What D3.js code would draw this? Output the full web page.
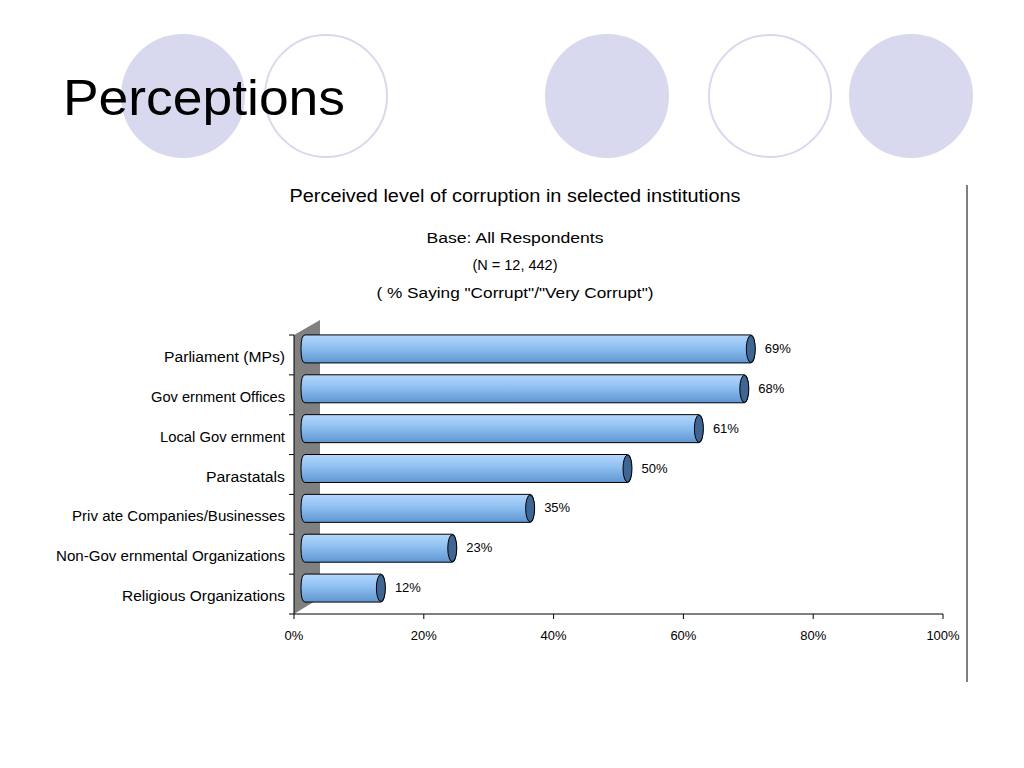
<!DOCTYPE html><html><head><meta charset="utf-8"><script src="https://d3js.org/d3.v7.min.js"></script>
<style>body{margin:0;background:#fff}svg{font-family:"Liberation Sans",Arial,sans-serif}</style></head><body><svg width="1024" height="768"></svg>
<script>
const categories=["Parliament (MPs)","Gov ernment Offices","Local Gov ernment","Parastatals","Priv ate Companies/Businesses","Non-Gov ernmental Organizations","Religious Organizations"];
const values=[69,68,61,50,35,23,12];
const ticks=[0,20,40,60,80,100];
const labelWidths=[121,134,125,79,213,229,163];
const svg=d3.select("svg");
const defs=svg.append("defs");
const g=defs.append("linearGradient").attr("id","bg").attr("x1",0).attr("y1",0).attr("x2",0).attr("y2",1);
g.append("stop").attr("offset","0").attr("stop-color","#b5d6fb");
g.append("stop").attr("offset","0.45").attr("stop-color","#8ec0f2");
g.append("stop").attr("offset","1").attr("stop-color","#5f95cf");
[[183,true],[326,false],[607,true],[770,false],[911,true]].forEach(([cx,f])=>{
 svg.append("circle").attr("cx",cx).attr("cy",96).attr("r",61).attr("fill",f?"#d8d8ee":"#fff").attr("stroke","#d8d8ee").attr("stroke-width",2);});
svg.append("text").attr("x",63).attr("y",115).attr("font-size",50).attr("textLength",282).attr("lengthAdjust","spacingAndGlyphs").text("Perceptions");
svg.append("line").attr("x1",967).attr("x2",967).attr("y1",185).attr("y2",682).attr("stroke","#000");
const x=d3.scaleLinear().domain([0,100]).range([294,943]);
const t=[["Perceived level of corruption in selected institutions",202,18,451],["Base: All Respondents",243,14,177],["(N = 12, 442)",270,14,85],['( % Saying "Corrupt"/"Very Corrupt")',298,14,277]];
t.forEach(([s,yy,fs,w])=>svg.append("text").attr("x",515-w/2).attr("y",yy).attr("font-size",fs).attr("textLength",w).attr("lengthAdjust","spacingAndGlyphs").text(s));
svg.append("path").attr("d",`M294,335L320,320L320,598L294,614Z`).attr("fill","#808080");
svg.append("line").attr("x1",294).attr("x2",294).attr("y1",335).attr("y2",614).attr("stroke","#000");
svg.append("line").attr("x1",294).attr("x2",943).attr("y1",614).attr("y2",614).attr("stroke","#000");
const bands=d3.range(categories.length+1).map(i=>335+i*(614-335)/categories.length);
bands.forEach(b=>svg.append("line").attr("x1",289).attr("x2",294).attr("y1",b).attr("y2",b).attr("stroke","#000"));
ticks.forEach(v=>{svg.append("line").attr("x1",x(v)).attr("x2",x(v)).attr("y1",614).attr("y2",619).attr("stroke","#000");
 svg.append("text").attr("x",x(v)).attr("y",640).attr("text-anchor","middle").attr("font-size",13).text(v+"%");});
categories.forEach((c,i)=>{
 const yc=bands[i]+(bands[1]-bands[0])/2-6, h=28, x0=x(0)+7, x1=x(values[i])+13;
 svg.append("path").attr("d",`M${x0+4},${yc-h/2}L${x1-4},${yc-h/2}Q${x1},${yc-h/2} ${x1},${yc}Q${x1},${yc+h/2} ${x1-4},${yc+h/2}L${x0+4},${yc+h/2}Q${x0},${yc+h/2} ${x0},${yc}Q${x0},${yc-h/2} ${x0+4},${yc-h/2}Z`).attr("fill","url(#bg)").attr("stroke","#000").attr("stroke-width",1);
 svg.append("ellipse").attr("cx",x1-4).attr("cy",yc).attr("rx",4.5).attr("ry",h/2-0.5).attr("fill","#3f6592").attr("stroke","#000");
 svg.append("text").attr("x",x1+10).attr("y",yc+4).attr("font-size",13).text(values[i]+"%");
 svg.append("text").attr("x",285-labelWidths[i]).attr("y",yc+13).attr("font-size",14).attr("textLength",labelWidths[i]).attr("lengthAdjust","spacingAndGlyphs").text(c);
});
</script></body></html>
